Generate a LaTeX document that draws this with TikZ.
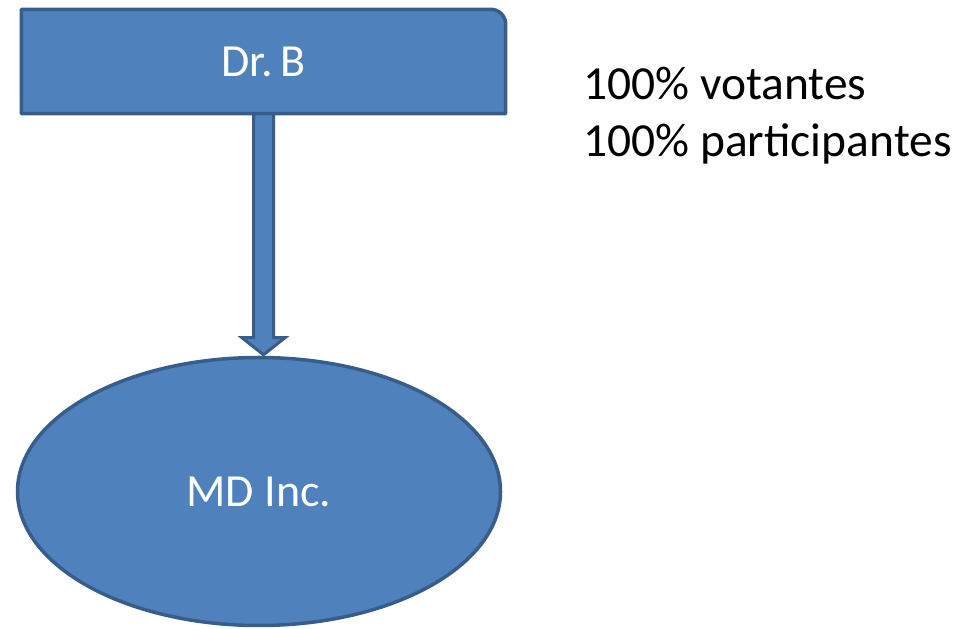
\documentclass[tikz,border=0pt]{standalone}
\usepackage{fontspec}
\setmainfont{Carlito}
\usetikzlibrary{shapes.geometric,calc}
\definecolor{pfill}{HTML}{4F81BD}
\definecolor{pline}{HTML}{385D8A}
\tikzset{
  shapeline/.style={draw=pline, fill=pfill, line width=3.5pt},
  boxtext/.style={text=white, font=\fontsize{46}{55}\selectfont},
  sidetext/.style={text=black, font=\fontsize{47.5}{57}\selectfont, align=left, inner sep=0pt}
}
\begin{document}
\begin{tikzpicture}[x=1pt,y=1pt]
\useasboundingbox (0,0) rectangle (969,629);
\node[minimum width=484pt, minimum height=104pt, inner sep=0pt] (a) at (263.5,567.5) {};
\node[ellipse, shapeline, minimum width=483pt, minimum height=268pt, inner sep=0pt] (b) at (259,137.5) {};
\draw[shapeline, line width=3pt] let \p1=(a.south), \p2=(b.north) in
  (\x1-10pt,\y1) -- (\x1-10pt,\y2+18pt) -- (\x1-21.5pt,\y2+18pt) -- (\x1,\y2+1pt)
  -- (\x1+21.5pt,\y2+18pt) -- (\x1+10pt,\y2+18pt) -- (\x1+10pt,\y1);
\draw[shapeline, line join=round] (a.south west) -- (a.north west) -- ([xshift=-15pt]a.north east)
  arc[start angle=90, end angle=0, radius=15pt] -- (a.south east) -- cycle;
\node[boxtext] (at) at (a.center) {Dr.\,B};
\node[boxtext] (bt) at (b.center) {MD Inc.};
\node[sidetext, anchor=base west] (v) at (583,529) {100\% votantes};
\node[sidetext, anchor=base west] (p) at (583,472) {100\% participantes};
\end{tikzpicture}
\end{document}
